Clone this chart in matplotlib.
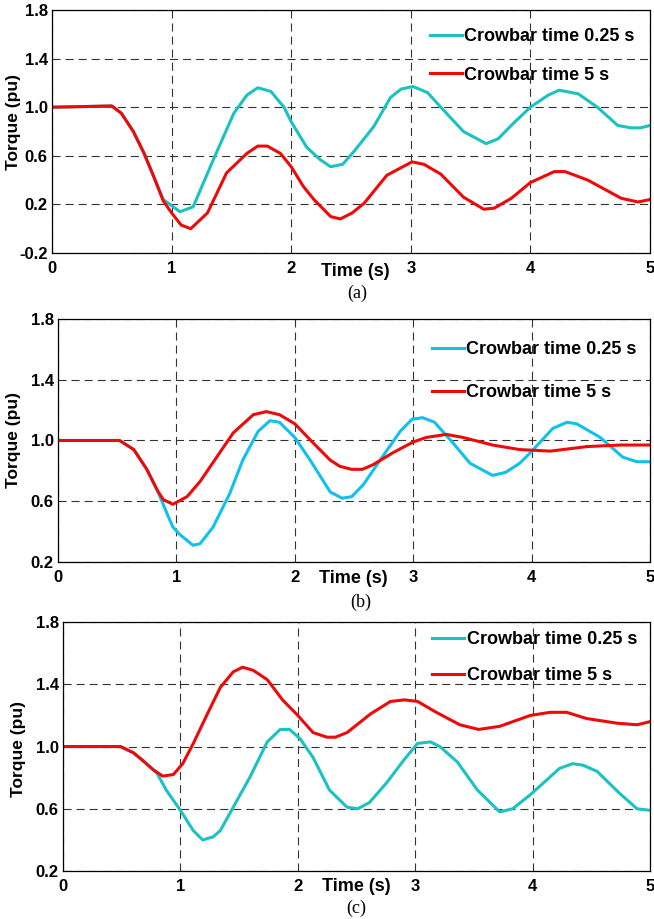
import numpy as np
import matplotlib.pyplot as plt

plt.rcParams['font.family'] = ['Liberation Sans', 'DejaVu Sans']
plt.rcParams['font.weight'] = 'bold'
plt.rcParams['lines.scale_dashes'] = False

labels = ['Crowbar time 0.25 s', 'Crowbar time 5 s']
captions = ['(a)', '(b)', '(c)']

# ---- panel (a)
ta_fast = [0, 0.5, 0.58, 0.68, 0.77, 0.85, 0.93, 1.0, 1.07, 1.18, 1.35, 1.52, 1.63, 1.72,
           1.83, 1.94, 2.0, 2.13, 2.24, 2.33, 2.43, 2.52, 2.69, 2.83, 2.92, 3.02, 3.14,
           3.27, 3.44, 3.63, 3.73, 3.86, 4.0, 4.15, 4.24, 4.40, 4.56, 4.73, 4.84, 4.92, 5.0]
ya_fast = [1.0, 1.01, 0.95, 0.80, 0.62, 0.43, 0.24, 0.19, 0.14, 0.18, 0.57, 0.95, 1.10, 1.16,
           1.13, 1.0, 0.88, 0.67, 0.57, 0.51, 0.53, 0.63, 0.84, 1.08, 1.15, 1.17, 1.12,
           0.98, 0.80, 0.70, 0.74, 0.87, 1.0, 1.10, 1.14, 1.11, 1.0, 0.85, 0.83, 0.83, 0.85]
ta_slow = [0, 0.5, 0.58, 0.68, 0.77, 0.85, 0.93, 1.0, 1.08, 1.16, 1.30, 1.46, 1.63, 1.72,
           1.80, 1.91, 2.0, 2.1, 2.19, 2.33, 2.41, 2.51, 2.61, 2.80, 3.01, 3.11, 3.25, 3.44,
           3.61, 3.70, 3.84, 4.0, 4.2, 4.29, 4.48, 4.76, 4.90, 5.0]
ya_slow = [1.0, 1.01, 0.95, 0.80, 0.62, 0.43, 0.23, 0.13, 0.03, 0.0, 0.13, 0.46, 0.62, 0.68,
           0.68, 0.62, 0.51, 0.35, 0.24, 0.10, 0.08, 0.13, 0.21, 0.44, 0.55, 0.53, 0.45, 0.26,
           0.16, 0.17, 0.25, 0.38, 0.47, 0.47, 0.40, 0.25, 0.22, 0.24]

# ---- panel (b)
tb_fast = [0, 0.52, 0.64, 0.75, 0.84, 0.92, 0.97, 1.03, 1.14, 1.20, 1.31, 1.45, 1.56, 1.69,
           1.79, 1.87, 2.0, 2.13, 2.30, 2.40, 2.48, 2.58, 2.72, 2.89, 2.99, 3.08, 3.18, 3.34,
           3.48, 3.67, 3.78, 3.90, 3.99, 4.18, 4.30, 4.38, 4.58, 4.77, 4.89, 5.0]
yb_fast = [1.0, 1.0, 0.94, 0.81, 0.67, 0.52, 0.43, 0.38, 0.31, 0.32, 0.43, 0.65, 0.87, 1.06,
           1.13, 1.12, 1.02, 0.87, 0.66, 0.62, 0.63, 0.71, 0.87, 1.06, 1.14, 1.15, 1.12, 0.98,
           0.85, 0.77, 0.79, 0.85, 0.92, 1.08, 1.12, 1.11, 1.02, 0.89, 0.86, 0.86]
tb_slow = [0, 0.52, 0.64, 0.75, 0.84, 0.89, 0.97, 1.09, 1.20, 1.34, 1.48, 1.65, 1.76, 1.87,
           2.0, 2.16, 2.30, 2.38, 2.48, 2.57, 2.66, 2.83, 3.0, 3.11, 3.28, 3.42, 3.67, 3.90,
           4.16, 4.47, 4.75, 5.0]
yb_slow = [1.0, 1.0, 0.94, 0.81, 0.67, 0.61, 0.58, 0.63, 0.73, 0.89, 1.05, 1.17, 1.19, 1.17,
           1.11, 0.98, 0.87, 0.83, 0.81, 0.81, 0.84, 0.92, 0.99, 1.02, 1.04, 1.02, 0.97, 0.94,
           0.93, 0.96, 0.97, 0.97]

# ---- panel (c)
tc_fast = [0, 0.49, 0.60, 0.68, 0.77, 0.80, 0.88, 1.0, 1.11, 1.19, 1.28, 1.34, 1.45, 1.59,
           1.74, 1.85, 1.93, 2.02, 2.13, 2.27, 2.42, 2.51, 2.61, 2.76, 2.90, 3.02, 3.13, 3.21,
           3.36, 3.53, 3.72, 3.83, 3.98, 4.23, 4.34, 4.43, 4.55, 4.74, 4.89, 5.0]
yc_fast = [1.0, 1.0, 0.96, 0.91, 0.85, 0.83, 0.72, 0.59, 0.46, 0.40, 0.42, 0.46, 0.61, 0.80,
           1.03, 1.11, 1.11, 1.05, 0.93, 0.72, 0.61, 0.60, 0.64, 0.77, 0.91, 1.02, 1.03, 1.00,
           0.90, 0.72, 0.58, 0.60, 0.69, 0.86, 0.89, 0.88, 0.84, 0.70, 0.60, 0.59]
tc_slow = [0, 0.49, 0.60, 0.68, 0.77, 0.85, 0.94, 1.02, 1.11, 1.23, 1.34, 1.45, 1.53, 1.62,
           1.74, 1.87, 2.0, 2.13, 2.25, 2.32, 2.42, 2.62, 2.79, 2.91, 3.02, 3.18, 3.38, 3.54,
           3.72, 3.98, 4.15, 4.29, 4.46, 4.72, 4.89, 5.0]
yc_slow = [1.0, 1.0, 0.96, 0.91, 0.85, 0.81, 0.82, 0.89, 1.02, 1.21, 1.38, 1.48, 1.51, 1.49,
           1.43, 1.30, 1.20, 1.09, 1.06, 1.06, 1.09, 1.21, 1.29, 1.30, 1.29, 1.22, 1.14, 1.11,
           1.13, 1.20, 1.22, 1.22, 1.18, 1.15, 1.14, 1.16]

xticks = [0, 1, 2, 3, 4, 5]
yticks_a = [-0.2, 0.2, 0.6, 1.0, 1.4, 1.8]
yticks_bc = [0.2, 0.6, 1.0, 1.4, 1.8]

teal = '#1CC1C1'
sky = '#12C0EE'
red = '#EE0A0A'

panels = [
    dict(pos=[0.0795, 0.7247, 0.9144, 0.2644], fast=(ta_fast, ya_fast), slow=(ta_slow, ya_slow),
         yticks=yticks_a, cfast=teal, ylab=(-0.052, 0.54), tlab=(0.507, -0.078),
         cap=(0.51, -0.165), leg=(0.632, 0.926), lsp=1.2),
    dict(pos=[0.0887, 0.3885, 0.9052, 0.2644], fast=(tb_fast, yb_fast), slow=(tb_slow, yb_slow),
         yticks=yticks_bc, cfast=sky, ylab=(-0.0625, 0.50), tlab=(0.498, -0.066),
         cap=(0.512, -0.165), leg=(0.632, 0.910), lsp=1.45),
    dict(pos=[0.0963, 0.0522, 0.8976, 0.2709], fast=(tc_fast, yc_fast), slow=(tc_slow, yc_slow),
         yticks=yticks_bc, cfast=teal, ylab=(-0.063, 0.49), tlab=(0.499, -0.064),
         cap=(0.50, -0.149), leg=(0.629, 0.964), lsp=1.05),
]

fig = plt.figure(figsize=(6.54, 9.19), dpi=100)

for p, cap in zip(panels, captions):
    ax = fig.add_axes(p['pos'])
    ax.plot(p['fast'][0], p['fast'][1], color=p['cfast'], lw=2.2, label=labels[0])
    ax.plot(p['slow'][0], p['slow'][1], color=red, lw=2.2, label=labels[1])
    ax.set_xlim(0, 5)
    ax.set_ylim(p['yticks'][0], p['yticks'][-1])
    ax.set_xticks(xticks)
    ax.set_yticks(p['yticks'])
    ax.set_xticklabels([str(v) for v in xticks])
    ax.set_yticklabels(['%.1f' % v for v in p['yticks']])
    ax.tick_params(length=0, labelsize=12)
    ax.tick_params(axis='x', pad=6)
    ax.tick_params(axis='y', pad=3)
    ax.grid(True, color='0.2', lw=0.8, linestyle=(0, (5.8, 3.6)))
    for s in ax.spines.values():
        s.set_linewidth(0.9)
    ax.set_ylabel('Torque (pu)', fontsize=12.5, fontweight='bold')
    ax.yaxis.set_label_coords(*p['ylab'])
    ax.text(p['tlab'][0], p['tlab'][1], 'Time (s)', transform=ax.transAxes,
            ha='center', va='center', fontsize=13, fontweight='bold')
    ax.text(p['cap'][0], p['cap'][1], cap, transform=ax.transAxes, ha='center', va='center',
            fontsize=13, fontweight='normal', family='Liberation Serif')
    ax.legend(loc='upper left', bbox_to_anchor=p['leg'], frameon=False, fontsize=13,
              handlelength=1.75, handletextpad=0.15, labelspacing=p['lsp'], borderpad=0,
              borderaxespad=0)

fig.savefig('out.png', dpi=100)
